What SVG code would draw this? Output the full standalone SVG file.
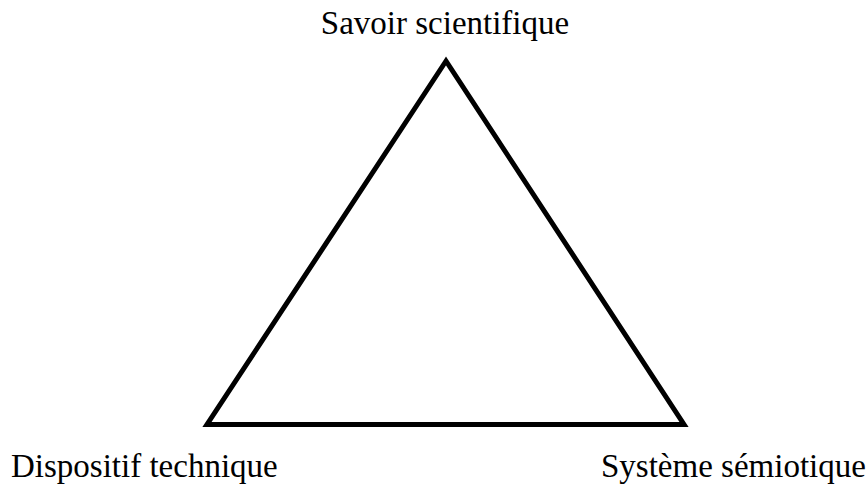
<svg xmlns="http://www.w3.org/2000/svg" width="867" height="488" viewBox="0 0 867 488">
<style>
.lbl{font-family:"Liberation Serif","Times New Roman",serif;font-size:33px;fill:#000}
.edge{fill:none;stroke:#000;stroke-width:5;stroke-linejoin:miter}
</style>
<rect width="867" height="488" fill="#fff"/>
<g id="connectors">
<path class="edge" d="M446,61 L207,424.5 L684,424.5 Z"/>
</g>
<g id="node-savoir"><text class="lbl" x="445" y="34" text-anchor="middle">Savoir scientifique</text></g>
<g id="node-dispositif"><text class="lbl" x="11" y="477">Dispositif technique</text></g>
<g id="node-systeme"><text class="lbl" x="601" y="477">Système sémiotique</text></g>
</svg>
